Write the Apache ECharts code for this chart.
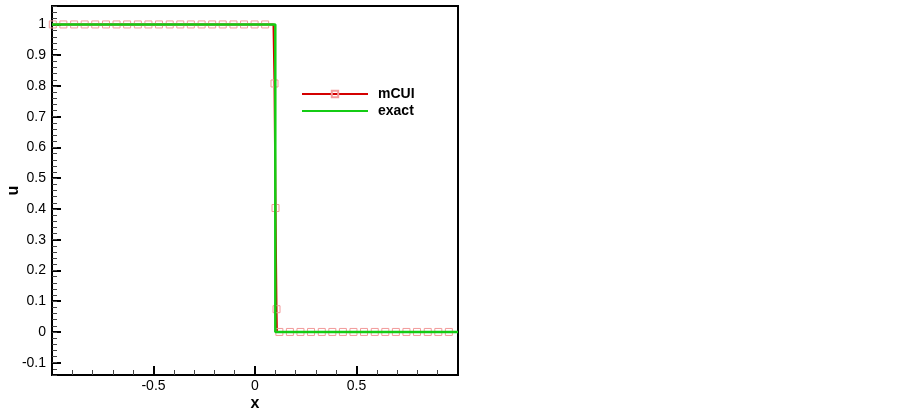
<!DOCTYPE html>
<html>
<head>
<meta charset="utf-8">
<script src="https://cdn.jsdelivr.net/npm/echarts@6/dist/echarts.min.js"></script>
<style>
  html, body { margin: 0; padding: 0; background: #fff; }
  #chart { width: 903px; height: 410px; }
</style>
</head>
<body>
<div id="chart"></div>
<script>
// mCUI samples that carry a square marker
var markX = [-0.996, -0.944, -0.891, -0.839, -0.787, -0.734, -0.682, -0.630, -0.577, -0.525,
             -0.473, -0.420, -0.368, -0.316, -0.263, -0.211, -0.159, -0.106, -0.054, -0.002,
             0.050, 0.096, 0.101, 0.106,
             0.120, 0.172, 0.224, 0.276, 0.329, 0.381, 0.433, 0.485, 0.537, 0.590,
             0.642, 0.694, 0.746, 0.798, 0.851, 0.903, 0.955];
var markU = [1, 1, 1, 1, 1, 1, 1, 1, 1, 1,
             1, 1, 1, 1, 1, 1, 1, 1, 1, 1,
             1, 0.808, 0.403, 0.074,
             0, 0, 0, 0, 0, 0, 0, 0, 0, 0,
             0, 0, 0, 0, 0, 0, 0];
// extra mCUI line points without a marker
var lineX = [-1, 0.091, 0.108, 1];
var lineU = [1, 1, 0, 0];
// exact solution
var exactX = [-1, 0.1, 0.1, 1];
var exactU = [1, 1, 0, 0];

var mcuiData = [];
markX.forEach(function (x, i) { mcuiData.push({ value: [x, markU[i]] }); });
lineX.forEach(function (x, i) { mcuiData.push({ value: [x, lineU[i]], symbol: 'none' }); });
mcuiData.sort(function (a, b) { return a.value[0] - b.value[0] || b.value[1] - a.value[1]; });

var exactData = exactX.map(function (x, i) { return [x, exactU[i]]; });

var font = 'Liberation Sans, Arial, sans-serif';
var chart = echarts.init(document.getElementById('chart'), null, { renderer: 'canvas' });
chart.setOption({
  animation: false,
  backgroundColor: '#fff',
  textStyle: { fontFamily: font },
  grid: {
    left: 52, right: 445, top: 6, bottom: 35, containLabel: false, outerBoundsMode: 'none',
    show: true, borderColor: '#000', borderWidth: 2, backgroundColor: 'transparent'
  },
  legend: {
    orient: 'vertical', left: 301, top: 87, itemWidth: 66, itemHeight: 8, itemGap: 3, padding: 0,
    textStyle: { fontFamily: font, fontSize: 14, fontWeight: 'bold', color: '#000', padding: [0, 0, 0, 5] },
    data: ['mCUI', { name: 'exact', itemStyle: { opacity: 0 } }]
  },
  xAxis: {
    type: 'value', min: -1, max: 1, interval: 0.5,
    name: 'x', nameLocation: 'middle', nameGap: 21, nameMoveOverlap: false,
    nameTextStyle: { fontFamily: font, fontSize: 16, fontWeight: 'bold', color: '#000' },
    axisLine: { show: true, onZero: false, lineStyle: { color: '#000', width: 2 } },
    axisTick: { show: true, inside: true, length: 9, lineStyle: { color: '#000', width: 2 } },
    minorTick: { show: true, splitNumber: 5, length: 5, lineStyle: { color: '#444', width: 1 } },
    axisLabel: { fontFamily: font, fontSize: 14, color: '#000', margin: 4, showMinLabel: false, showMaxLabel: false },
    splitLine: { show: false }
  },
  yAxis: [{
    type: 'value', min: -0.14, max: 1.06, splitNumber: 12,
    name: 'u', nameLocation: 'middle', nameGap: 30, nameRotate: 90, nameMoveOverlap: false,
    nameTextStyle: { fontFamily: font, fontSize: 16, fontWeight: 'bold', color: '#000' },
    axisLine: { show: true, onZero: false, lineStyle: { color: '#000', width: 2 } },
    axisTick: { show: true, inside: true, length: 9, lineStyle: { color: '#000', width: 2 } },
    axisLabel: { fontFamily: font, fontSize: 14, color: '#000', margin: 6, showMinLabel: false, showMaxLabel: false },
    splitLine: { show: false }
  }, {
    type: 'value', min: -0.14, max: 1.06, interval: 0.02, position: 'left', offset: 0,
    axisLine: { show: false, onZero: false },
    axisTick: { show: true, inside: true, length: 5, lineStyle: { color: '#444', width: 1 } },
    axisLabel: { show: false },
    splitLine: { show: false }
  }],
  series: [{
    name: 'mCUI', type: 'line', data: mcuiData,
    symbol: 'rect', symbolSize: 7, showSymbol: true,
    lineStyle: { color: '#d40000', width: 2 },
    itemStyle: { color: 'rgba(255,255,255,0)', borderColor: '#f29a9a', borderWidth: 1 },
    color: '#d40000',
    z: 2
  }, {
    name: 'exact', type: 'line', data: exactData, symbol: 'none',
    lineStyle: { color: '#14cc14', width: 2.5 },
    color: '#14cc14',
    z: 3
  }]
});
</script>
</body>
</html>
